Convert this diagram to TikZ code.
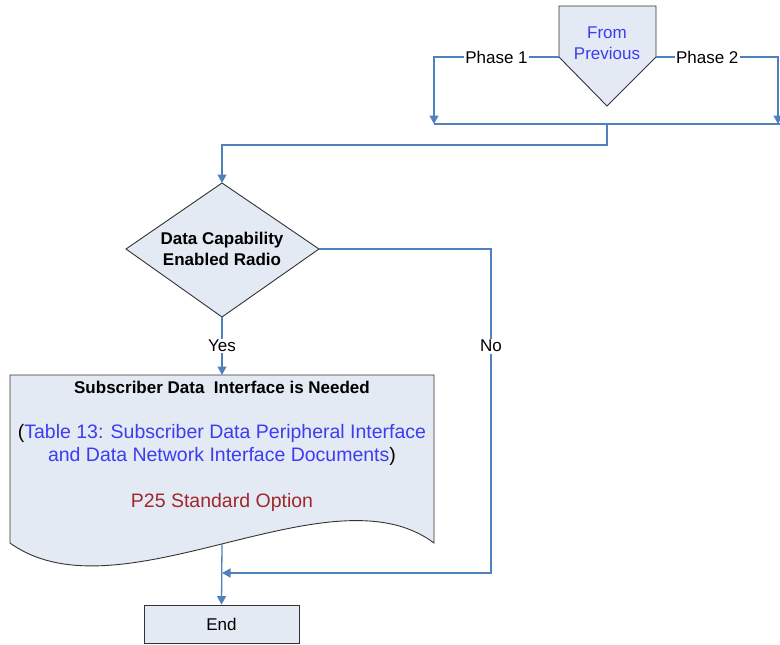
\documentclass[tikz,border=0pt]{standalone}
\usepackage{fontspec}
\setmainfont{Liberation Sans}
\usetikzlibrary{arrows.meta}
\definecolor{linec}{HTML}{4F81BD}
\definecolor{fillc}{HTML}{E4EAF4}
\definecolor{bluetxt}{HTML}{3C3CF0}
\definecolor{redtxt}{HTML}{A0282D}
\begin{document}
\begin{tikzpicture}[x=1pt,y=-1pt,
  shapeline/.style={draw=black!80, fill=fillc, line width=0.9pt},
  conn/.style={draw=linec, line width=1.3pt},
  arr/.style={conn, -{Triangle[width=9pt,length=8.5pt]}},
  lbl/.style={fill=white, inner sep=1.5pt, font=\fontsize{17}{20}\selectfont},
  txt/.style={align=center, font=\fontsize{17}{21}\selectfont, inner sep=0pt}]
\useasboundingbox (0,0) rectangle (780,645);

% off-page connector "From Previous"
\coordinate (fromL) at (559,57);
\coordinate (fromR) at (656,57);
\coordinate (fromB) at (607,106);
\path[shapeline] (559,6) -- (656,6) -- (fromR) -- (fromB) -- (fromL) -- cycle;
\node[txt, text=bluetxt] (from) at (607,43) {From\\Previous};

% bus
\coordinate (p1) at (434,124);
\coordinate (p2) at (778,124);
\coordinate (busm) at (607,124);
\coordinate (busL) at (434,124);
\coordinate (busR) at (780,124);
\draw[conn] (busL) -- (busR);
\draw[arr] (fromL) -- node[lbl]{Phase 1} (434,57) -- (p1);
\draw[arr] (fromR) -- node[lbl, pos=0.42]{Phase 2} (778,57) -- (p2);

% decision
\coordinate (dT) at (222,183);
\coordinate (dL) at (126,249);
\coordinate (dR) at (319,249);
\coordinate (dB) at (222,317);
\path[shapeline] (dT) -- (dR) -- (dB) -- (dL) -- cycle;
\node[txt, font=\fontsize{17}{21}\bfseries\selectfont] (dec) at (222,249) {Data Capability\\Enabled Radio};
\draw[arr] (busm) -- (607,145) -- (222,145) -- (dT);

% document shape
\coordinate (docT) at (222,375);
\coordinate (docB) at (222,544);
\path[shapeline] (10,375) -- (434,375) -- (434,543)
  .. controls (330,465) and (120,622) .. (10,543) -- cycle;
\node[txt, font=\fontsize{17}{21}\bfseries\selectfont] (doct) at (222,387) {Subscriber Data\ \ Interface is Needed};
\node[txt, font=\fontsize{19.5}{23}\selectfont] (docm) at (222,445) {(\textcolor{bluetxt}{Table 13: Subscriber Data Peripheral Interface}\\\textcolor{bluetxt}{and Data Network Interface Documents})};
\node[txt, font=\fontsize{19.5}{23}\selectfont, text=redtxt] (docr) at (222,502) {P25 Standard Option};

\draw[arr] (dB) -- node[lbl]{Yes} (docT);

% End
\node[draw=black!80, fill=fillc, line width=0.9pt, minimum width=155pt, minimum height=38pt, inner sep=0pt, font=\fontsize{17}{20}\selectfont] (end) at (221.5,624) {End};
\coordinate (join) at (222,573);
\draw[arr] (docB) -- (end.north);
\draw[arr] (dR) -- (491,249) -- node[lbl, pos=0.3]{No} (491,573) -- (join);
\end{tikzpicture}
\end{document}
